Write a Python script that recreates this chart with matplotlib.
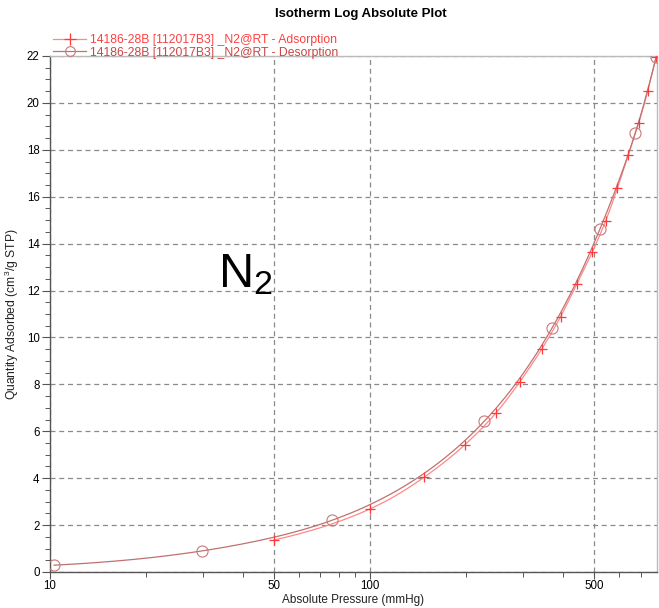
import numpy as np
import matplotlib
matplotlib.use("Agg")
import matplotlib.pyplot as plt
from matplotlib.ticker import FixedLocator, NullFormatter, MultipleLocator
from matplotlib.lines import Line2D

plt.rcParams["font.family"] = ["Liberation Sans", "DejaVu Sans"]
plt.rcParams["mathtext.fontset"] = "custom"
plt.rcParams["mathtext.rm"] = "Liberation Sans"
plt.rcParams["mathtext.default"] = "regular"

ads_p = [50, 100, 147.5, 198, 247, 294, 344, 394, 442.5, 495, 545, 593, 640, 691, 737.6, 783]
ads_q = [1.36, 2.69, 4.04, 5.43, 6.77, 8.12, 9.51, 10.89, 12.28, 13.65, 14.98, 16.37, 17.76, 19.15, 20.52, 21.96]
des_p = [10.3, 29.9, 75.9, 227.6, 371, 523, 674.6, 783]
des_q = [0.29, 0.90, 2.20, 6.43, 10.42, 14.63, 18.73, 21.95]
x_ticks = [10, 50, 100, 500]
x_minor = [20, 30, 40, 60, 70, 80, 90, 200, 300, 400, 600, 700]
ads_label = "14186-28B [112017B3] _N2@RT - Adsorption"
des_label = "14186-28B [112017B3] _N2@RT - Desorption"


def smooth(px, py, n=24):
    # Catmull-Rom drawn in log-log space (rendering only)
    lx = np.log10(np.asarray(px, float))
    ly = np.log10(np.asarray(py, float))
    P = np.column_stack([lx, ly])
    P = np.vstack([2 * P[0] - P[1], P, 2 * P[-1] - P[-2]])
    out = []
    t = np.linspace(0, 1, n, endpoint=False)[:, None]
    for i in range(1, len(P) - 2):
        p0, p1, p2, p3 = P[i - 1], P[i], P[i + 1], P[i + 2]
        seg = 0.5 * ((2 * p1) + (-p0 + p2) * t + (2 * p0 - 5 * p1 + 4 * p2 - p3) * t ** 2
                     + (-p0 + 3 * p1 - 3 * p2 + p3) * t ** 3)
        out.append(seg)
    out.append(P[-2][None, :])
    out = np.vstack(out)
    return 10 ** out[:, 0], 10 ** out[:, 1]


fig = plt.figure(figsize=(6.59, 6.08), dpi=100)
ax = fig.add_axes([50 / 659, 1 - 572 / 608, 607 / 659, 516 / 608])

ads_col = "#ff3838"
ads_line = "#ff8888"
des_col = "#c87878"
des_line = "#c07070"

sx, sy = smooth(ads_p, ads_q)
ax.plot(sx, sy, color=ads_line, lw=0.9, zorder=3)
ax.plot(ads_p, ads_q, ls="none", marker="+", ms=7.5, mew=0.9, color=ads_col, zorder=4)
dx, dy = smooth(des_p, des_q)
ax.plot(dx, dy, color=des_line, lw=0.9, zorder=3)
ax.plot(des_p, des_q, ls="none", marker="o", ms=8, mfc="none", mew=0.8, color=des_col, zorder=4)

ax.set_xscale("log")
ax.set_xlim(10, 788)
ax.set_ylim(0, 22)
ax.xaxis.set_major_locator(FixedLocator(x_ticks))
ax.xaxis.set_minor_locator(FixedLocator(x_minor))
ax.xaxis.set_minor_formatter(NullFormatter())
ax.set_xticklabels([str(v) for v in x_ticks])
ax.yaxis.set_major_locator(MultipleLocator(2))
ax.yaxis.set_minor_locator(MultipleLocator(0.5))

ax.tick_params(axis="both", which="major", length=6, width=0.8, color="#555555", labelsize=8.3, direction="out")
ax.tick_params(axis="x", which="major", length=5, pad=0.5)
ax.tick_params(axis="y", which="major", pad=1.5)
ax.tick_params(axis="both", which="minor", length=3.5, width=0.7, color="#555555", direction="out")
ax.grid(True, which="major", ls=(0, (4, 3)), color="#8a8a8a", lw=0.9)
for s in ax.spines.values():
    s.set_color("#bbbbbb")
    s.set_linewidth(1.0)
ax.spines["left"].set_color("#555555")
ax.spines["bottom"].set_color("#555555")

ax.set_xlabel("Absolute Pressure (mmHg)", fontsize=8.5, color="#222222")
ax.xaxis.set_label_coords(0.5, -(593.5 - 572) / 516)
ax.set_ylabel("Quantity Adsorbed (cm$^3$/g STP)", fontsize=8.7, color="#222222")
ax.yaxis.set_label_coords(-(50 - 21) / 607, 0.5)

fig.text(361 / 659, 1 - 14 / 608, "Isotherm Log Absolute Plot", ha="center", va="center",
         fontsize=9.5, fontweight="bold")

h1 = Line2D([], [], color=ads_line, marker="+", ms=8, mew=0.9, mec=ads_col, lw=0.9)
h2 = Line2D([], [], color=des_line, marker="o", ms=7, mfc="none", mew=0.8, mec=des_col, lw=0.9)
leg = fig.legend([h1, h2], [ads_label, des_label], loc="upper left",
                 bbox_to_anchor=(47 / 659, 1 - 28 / 608), frameon=False, fontsize=8.8,
                 handlelength=2.7, handletextpad=0.3, labelspacing=0.05, borderpad=0)
leg.get_texts()[0].set_color("#ff4040")
leg.get_texts()[1].set_color("#cc4444")

ax.text((245 - 50) / 607, (572 - 275) / 516, "N$_2$", fontsize=35, ha="center", va="center",
        transform=ax.transAxes)

fig.savefig("out.png", dpi=100)
